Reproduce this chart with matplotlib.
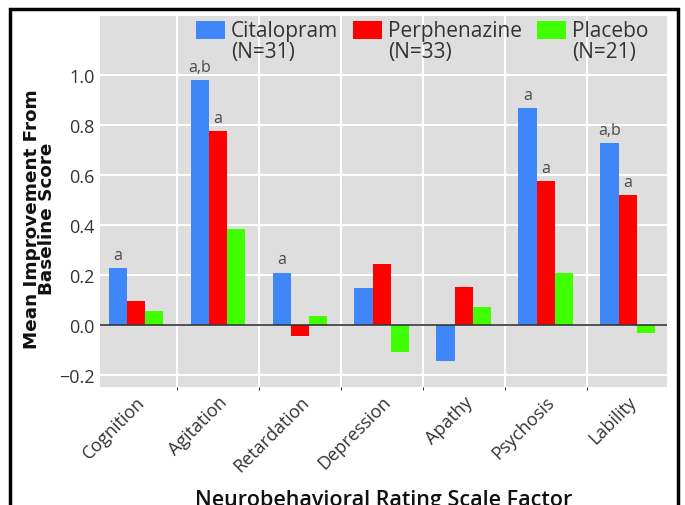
import matplotlib
matplotlib.use("Agg")
import matplotlib.pyplot as plt
import numpy as np
from matplotlib.patches import Rectangle
from matplotlib.legend_handler import HandlerPatch

plt.rcParams['font.family'] = ['Open Sans', 'DejaVu Sans']

categories = ["Cognition", "Agitation", "Retardation", "Depression", "Apathy", "Psychosis", "Lability"]
series_names = ["Citalopram\n(N=31)", "Perphenazine\n(N=33)", "Placebo\n(N=21)"]
citalopram = [0.23, 0.98, 0.21, 0.15, -0.145, 0.87, 0.73]
perphenazine = [0.095, 0.775, -0.045, 0.245, 0.153, 0.575, 0.52]
placebo = [0.057, 0.383, 0.036, -0.109, 0.073, 0.208, -0.03]
annot_cit = ["a", "a,b", "a", "", "", "a", "a,b"]
annot_per = ["", "a", "", "", "", "a", "a"]
yticks = [-0.2, 0.0, 0.2, 0.4, 0.6, 0.8, 1.0]
ytick_labels = ["\u22120.2", "0.0", "0.2", "0.4", "0.6", "0.8", "1.0"]

colors = ["#3f86f9", "#ff0000", "#40ff00"]

fig = plt.figure(figsize=(6.85, 5.06), dpi=100)
ax = fig.add_axes([100/685, 1-388/506, 567/685, 371/506])
ax.set_facecolor("#dedede")

x = np.arange(len(categories))
w = 0.223
series = [citalopram, perphenazine, placebo]
bars = []
for i, (vals, c) in enumerate(zip(series, colors)):
    b = ax.bar(x + (i-1)*w, vals, w, color=c, zorder=3, linewidth=0)
    bars.append(b)

for j in range(len(categories)):
    if annot_cit[j]:
        ax.text(x[j]-w, citalopram[j]+0.02, annot_cit[j], ha='center', va='bottom',
                fontsize=11.5, color='#4a4a4a', zorder=4)
    if annot_per[j]:
        ax.text(x[j], perphenazine[j]+0.02, annot_per[j], ha='center', va='bottom',
                fontsize=11.5, color='#4a4a4a', zorder=4)

ax.set_xlim(-0.44, 6.48)
ax.set_ylim(-0.248, 1.236)
ax.set_yticks(yticks)
ax.set_yticklabels(ytick_labels)
ax.set_xticks(x)
ax.set_xticklabels(categories, rotation=45, ha='right', rotation_mode='anchor')
ax.set_xticks(np.arange(len(categories)-1)+0.5, minor=True)
ax.tick_params(axis='both', length=0, labelcolor='#333333')
ax.tick_params(axis='x', labelsize=13, pad=4)
ax.tick_params(axis='y', labelsize=13, pad=4)
ax.grid(True, which='major', axis='y', color='white', lw=1.5, zorder=1)
ax.grid(True, which='minor', axis='x', color='white', lw=1.5, zorder=1)
ax.axhline(0, color='#333333', lw=1.2, zorder=4)
for s in ax.spines.values():
    s.set_visible(False)

ax.set_ylabel("Mean Improvement From\nBaseline Score", fontsize=13.2, fontweight='bold',
              family=['DejaVu Sans'], linespacing=0.8, color='#111111')
ax.yaxis.set_label_coords(-0.078, 0.455)
ax.set_xlabel("Neurobehavioral Rating Scale Factor", fontsize=15.5, fontweight='semibold',
              labelpad=10, color='#111111')

def make_patch(legend, orig_handle, xdescent, ydescent, width, height, fontsize):
    return Rectangle((-xdescent, -ydescent + 0.55*fontsize), width, height)

leg = ax.legend([b[0] for b in bars], series_names, ncol=3, loc='upper left',
                bbox_to_anchor=(0.169, 0.99), frameon=False, fontsize=15,
                handlelength=1.4, handleheight=0.9, handletextpad=0.3, columnspacing=0.7,
                borderpad=0, borderaxespad=0,
                handler_map={Rectangle: HandlerPatch(patch_func=make_patch)})
for t in leg.get_texts():
    t.set_color('#333333')
    t.set_linespacing(1.0)

fig.add_artist(Rectangle((10/685, -0.1), 668/685, 1.1-10/506, transform=fig.transFigure,
                         fill=False, edgecolor='black', lw=2.5, clip_on=False))

fig.savefig("out.png", dpi=100)
